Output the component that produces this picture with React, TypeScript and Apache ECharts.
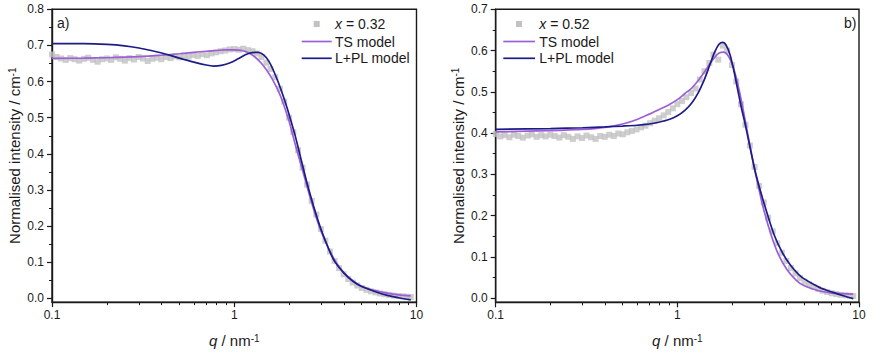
import React, { useEffect, useRef } from "react";
import * as echarts from "echarts";

// ---- data ----
const qData = [
  0.100, 0.106, 0.112, 0.119, 0.126, 0.133, 0.141, 0.150, 0.158, 0.168, 0.178, 0.188, 0.200,
  0.211, 0.224, 0.237, 0.251, 0.266, 0.282, 0.299, 0.316, 0.335, 0.355, 0.376,
  0.398, 0.422, 0.447, 0.473, 0.501, 0.531, 0.562, 0.596, 0.631,
  0.668, 0.708, 0.750, 0.794, 0.841, 0.891, 0.944,
  1.00, 1.06, 1.12, 1.19, 1.26, 1.33, 1.41, 1.50,
  1.58, 1.68, 1.78, 1.88, 2.00, 2.11, 2.24, 2.37, 2.51, 2.66, 2.82, 2.99, 3.16, 3.35, 3.55, 3.76,
  3.98, 4.22, 4.47, 4.73, 5.01, 5.31, 5.62, 5.96, 6.31, 6.68, 7.08, 7.50, 7.94, 8.41, 8.91, 9.30,
];

const intensityA = [
  0.675, 0.668, 0.664, 0.660, 0.665, 0.662, 0.658, 0.663, 0.666, 0.660, 0.655, 0.662, 0.664,
  0.660, 0.667, 0.663, 0.658, 0.665, 0.661, 0.668, 0.664, 0.657, 0.663, 0.666,
  0.662, 0.668, 0.665, 0.670, 0.667, 0.672, 0.669, 0.674, 0.671,
  0.676, 0.673, 0.678, 0.681, 0.684, 0.686, 0.689,
  0.690, 0.688, 0.691, 0.687, 0.684, 0.678, 0.668, 0.652,
  0.635, 0.612, 0.580, 0.545, 0.500, 0.460, 0.410, 0.362, 0.315, 0.270, 0.232, 0.192, 0.160, 0.130, 0.104, 0.084,
  0.067, 0.054, 0.044, 0.036, 0.029, 0.024, 0.020, 0.017, 0.014, 0.012, 0.010, 0.008, 0.007, 0.006, 0.005, 0.004,
];

const intensityB = [
  0.398, 0.392, 0.395, 0.390, 0.396, 0.393, 0.389, 0.394, 0.397, 0.391, 0.395, 0.392, 0.396,
  0.393, 0.389, 0.395, 0.391, 0.386, 0.392, 0.388, 0.394, 0.390, 0.386, 0.393,
  0.391, 0.396, 0.393, 0.399, 0.397, 0.402, 0.405, 0.409, 0.414,
  0.418, 0.424, 0.430, 0.436, 0.443, 0.451, 0.460,
  0.470, 0.478, 0.487, 0.497, 0.508, 0.530, 0.550, 0.570,
  0.590, 0.578, 0.612, 0.600, 0.565, 0.525, 0.470, 0.420, 0.370, 0.318, 0.272, 0.232, 0.195, 0.162, 0.133, 0.110,
  0.090, 0.073, 0.060, 0.049, 0.040, 0.033, 0.027, 0.022, 0.018, 0.015, 0.012, 0.010, 0.008, 0.007, 0.006, 0.005,
];

const tsQA = [0.1, 0.15, 0.2, 0.3, 0.4, 0.5, 0.6, 0.7, 0.8, 0.9, 1.0, 1.1, 1.2, 1.3, 1.4, 1.5, 1.6, 1.7, 1.8, 1.9, 2.0, 2.1, 2.2, 2.4, 2.6, 2.8, 3.0, 3.3, 3.6, 4.0, 4.5, 5.0, 6.0, 7.0, 8.0, 9.3];
const tsIA = [0.664, 0.665, 0.666, 0.669, 0.673, 0.677, 0.681, 0.684, 0.686, 0.688, 0.688, 0.686, 0.680, 0.668, 0.652, 0.633, 0.611, 0.586, 0.558, 0.525, 0.490, 0.450, 0.412, 0.345, 0.282, 0.228, 0.185, 0.138, 0.102, 0.071, 0.048, 0.034, 0.021, 0.014, 0.010, 0.007];

const lplQA = [0.1, 0.15, 0.2, 0.25, 0.3, 0.35, 0.4, 0.45, 0.5, 0.6, 0.7, 0.77, 0.85, 0.95, 1.05, 1.15, 1.25, 1.35, 1.45, 1.55, 1.65, 1.75, 1.85, 1.95, 2.05, 2.15, 2.3, 2.5, 2.7, 3.0, 3.5, 4.0, 4.5, 5.0, 6.0, 7.0, 8.0, 9.3];
const lplIA = [0.705, 0.705, 0.703, 0.699, 0.693, 0.686, 0.679, 0.672, 0.665, 0.654, 0.646, 0.643, 0.645, 0.652, 0.663, 0.674, 0.680, 0.681, 0.674, 0.656, 0.628, 0.596, 0.562, 0.527, 0.490, 0.454, 0.395, 0.322, 0.262, 0.190, 0.108, 0.070, 0.047, 0.033, 0.018, 0.008, 0.002, -0.004];

const tsQB = [0.1, 0.2, 0.3, 0.4, 0.5, 0.6, 0.7, 0.8, 0.9, 1.0, 1.1, 1.2, 1.3, 1.4, 1.5, 1.6, 1.7, 1.8, 1.9, 2.0, 2.1, 2.2, 2.3, 2.4, 2.6, 2.8, 3.0, 3.3, 3.6, 4.0, 4.5, 5.0, 6.0, 7.0, 8.0, 9.3];
const tsIB = [0.403, 0.406, 0.409, 0.414, 0.422, 0.433, 0.446, 0.458, 0.469, 0.481, 0.496, 0.509, 0.527, 0.546, 0.566, 0.583, 0.594, 0.596, 0.588, 0.568, 0.538, 0.500, 0.458, 0.415, 0.335, 0.268, 0.212, 0.150, 0.106, 0.070, 0.044, 0.030, 0.018, 0.013, 0.011, 0.010];

const lplQB = [0.1, 0.2, 0.3, 0.4, 0.5, 0.6, 0.7, 0.8, 0.9, 1.0, 1.1, 1.2, 1.3, 1.4, 1.5, 1.6, 1.7, 1.78, 1.85, 1.95, 2.05, 2.15, 2.25, 2.35, 2.5, 2.7, 3.0, 3.4, 3.8, 4.2, 4.8, 5.4, 6.2, 7.2, 8.2, 9.3];
const lplIB = [0.409, 0.411, 0.413, 0.415, 0.417, 0.419, 0.422, 0.427, 0.433, 0.442, 0.455, 0.473, 0.497, 0.527, 0.562, 0.595, 0.616, 0.620, 0.614, 0.590, 0.550, 0.505, 0.462, 0.426, 0.370, 0.302, 0.230, 0.155, 0.109, 0.080, 0.052, 0.038, 0.024, 0.014, 0.006, -0.001];

const xMajorTicks = [0.1, 1, 10];
const xMinorTicks = [0.2, 0.3, 0.4, 0.5, 0.6, 0.7, 0.8, 0.9, 2, 3, 4, 5, 6, 7, 8, 9];
const yMajorTicksA = [0, 0.1, 0.2, 0.3, 0.4, 0.5, 0.6, 0.7, 0.8];
const yMinorTicksA = [0.05, 0.15, 0.25, 0.35, 0.45, 0.55, 0.65, 0.75];
const yMajorTicksB = [0, 0.1, 0.2, 0.3, 0.4, 0.5, 0.6, 0.7];
const yMinorTicksB = [0.05, 0.15, 0.25, 0.35, 0.45, 0.55, 0.65];

const panelLabels = ["a)", "b)"];
const sampleLabels = ["0.32", "0.52"];
const modelNames = ["TS model", "L+PL model"];

// ---- styles ----
const FONT = "'Liberation Sans', Arial, sans-serif";
const INK = "#1a1a1a";
const GRAY = "#c2c2c2";
const PURPLE = "#9c5fd8";
const NAVY = "#1c1c86";

const zip = (a: number[], b: number[]) => a.map((v, i) => [v, b[i]]);

function xAxesFor(grid: number) {
  return [
    {
      gridIndex: grid,
      type: "log",
      logBase: 10,
      min: 0.1,
      max: 10,
      position: "bottom",
      axisLine: { show: true, onZero: false, lineStyle: { color: INK, width: 1.4 } },
      axisTick: { show: true, inside: false, length: 5, lineStyle: { color: INK, width: 1.2 }, customValues: xMajorTicks },
      axisLabel: {
        show: true,
        customValues: xMajorTicks,
        margin: 7,
        fontSize: 12,
        fontFamily: FONT,
        color: INK,
        formatter: (v: number) => String(+Number(v).toPrecision(3)),
      },
      splitLine: { show: false },
      minorTick: { show: false },
      name: "{i|q} / nm{sup|-1}",
      nameLocation: "middle",
      nameGap: 31,
      nameTextStyle: {
        fontSize: 15,
        fontFamily: FONT,
        color: INK,
        rich: {
          i: { fontSize: 15, fontStyle: "italic", fontFamily: FONT, color: INK },
          sup: { fontSize: 10, fontFamily: FONT, color: INK, verticalAlign: "top" },
        },
      },
    },
    {
      gridIndex: grid,
      type: "log",
      logBase: 10,
      min: 0.1,
      max: 10,
      position: "bottom",
      axisLine: { show: false, onZero: false },
      axisTick: { show: true, inside: false, length: 3, lineStyle: { color: INK, width: 1 }, customValues: xMinorTicks },
      axisLabel: { show: false },
      splitLine: { show: false },
    },
  ];
}

function yAxesFor(grid: number, max: number, majors: number[], minors: number[]) {
  return [
    {
      gridIndex: grid,
      type: "value",
      min: -0.01,
      max,
      position: "left",
      axisLine: { show: true, onZero: false, lineStyle: { color: INK, width: 1.4 } },
      axisTick: { show: true, inside: false, length: 5, lineStyle: { color: INK, width: 1.2 }, customValues: majors },
      axisLabel: {
        show: true,
        customValues: majors,
        margin: 8,
        fontSize: 12,
        fontFamily: FONT,
        color: INK,
        formatter: (v: number) => Number(v).toFixed(1),
      },
      splitLine: { show: false },
      name: "Normalised intensity / cm{sup|-1}",
      nameLocation: "middle",
      nameGap: 30,
      nameTextStyle: {
        fontSize: 15,
        fontFamily: FONT,
        color: INK,
        rich: {
          sup: { fontSize: 10, fontFamily: FONT, color: INK, verticalAlign: "top" },
        },
      },
    },
    {
      gridIndex: grid,
      type: "value",
      min: -0.01,
      max,
      position: "left",
      axisLine: { show: false, onZero: false },
      axisTick: { show: true, inside: false, length: 3, lineStyle: { color: INK, width: 1 }, customValues: minors },
      axisLabel: { show: false },
      splitLine: { show: false },
    },
  ];
}

function panelSeries(xIdx: number, yIdx: number, data: number[], tsQ: number[], tsI: number[], lQ: number[], lI: number[]) {
  return [
    {
      type: "scatter",
      xAxisIndex: xIdx,
      yAxisIndex: yIdx,
      symbol: "rect",
      symbolSize: 6,
      itemStyle: { color: GRAY },
      data: zip(qData, data),
      z: 2,
    },
    {
      type: "line",
      xAxisIndex: xIdx,
      yAxisIndex: yIdx,
      showSymbol: false,
      smooth: 0.3,
      lineStyle: { color: PURPLE, width: 1.7 },
      itemStyle: { color: PURPLE },
      data: zip(tsQ, tsI),
      z: 3,
    },
    {
      type: "line",
      xAxisIndex: xIdx,
      yAxisIndex: yIdx,
      showSymbol: false,
      smooth: 0.3,
      lineStyle: { color: NAVY, width: 1.7 },
      itemStyle: { color: NAVY },
      data: zip(lQ, lI),
      z: 4,
    },
  ];
}

function legendGraphics(markerX: number, lineX0: number, lineX1: number, textX: number, sample: string) {
  const txt = (x: number, y: number, text: string) => ({
    type: "text",
    x,
    y,
    style: {
      text,
      fontSize: 14,
      fontFamily: FONT,
      fill: INK,
      align: "left",
      verticalAlign: "middle",
      rich: { i: { fontStyle: "italic", fontSize: 14, fontFamily: FONT, fill: INK } },
    },
  });
  return [
    { type: "rect", shape: { x: markerX - 3, y: 21, width: 6, height: 6 }, style: { fill: GRAY } },
    txt(textX, 24, "{i|x} = " + sample),
    { type: "line", shape: { x1: lineX0, y1: 41.5, x2: lineX1, y2: 41.5 }, style: { stroke: PURPLE, lineWidth: 1.7 } },
    txt(textX, 41.5, modelNames[0]),
    { type: "line", shape: { x1: lineX0, y1: 58.3, x2: lineX1, y2: 58.3 }, style: { stroke: NAVY, lineWidth: 1.7 } },
    txt(textX, 58.3, modelNames[1]),
  ];
}

export default function App() {
  const ref = useRef<HTMLDivElement>(null);

  useEffect(() => {
    if (!ref.current) return;
    const chart = echarts.init(ref.current, undefined, { renderer: "svg" });
    const frame = { show: true, borderColor: INK, borderWidth: 1.4, backgroundColor: "transparent" };
    chart.setOption({
      animation: false,
      backgroundColor: "#ffffff",
      grid: [
        { left: 52, top: 9.3, width: 364.5, height: 292.8, ...frame },
        { left: 495.7, top: 9.3, width: 363.3, height: 293, ...frame },
      ],
      xAxis: [...xAxesFor(0), ...xAxesFor(1)],
      yAxis: [...yAxesFor(0, 0.8, yMajorTicksA, yMinorTicksA), ...yAxesFor(1, 0.7, yMajorTicksB, yMinorTicksB)],
      series: [
        ...panelSeries(0, 0, intensityA, tsQA, tsIA, lplQA, lplIA),
        ...panelSeries(2, 2, intensityB, tsQB, tsIB, lplQB, lplIB),
      ],
      graphic: [
        {
          type: "text",
          x: 57,
          y: 22.7,
          style: { text: panelLabels[0], fontSize: 14, fontFamily: FONT, fill: INK, verticalAlign: "middle" },
        },
        {
          type: "text",
          x: 844,
          y: 22.7,
          style: { text: panelLabels[1], fontSize: 14, fontFamily: FONT, fill: INK, verticalAlign: "middle" },
        },
        ...legendGraphics(316.7, 301.7, 331.7, 335, sampleLabels[0]),
        ...legendGraphics(519, 503.3, 535, 539.3, sampleLabels[1]),
      ],
    });
    return () => chart.dispose();
  }, []);

  return (
    <div
      ref={ref}
      style={{ position: "absolute", left: 0, top: 0, width: 890, height: 356, background: "#fff" }}
    />
  );
}
